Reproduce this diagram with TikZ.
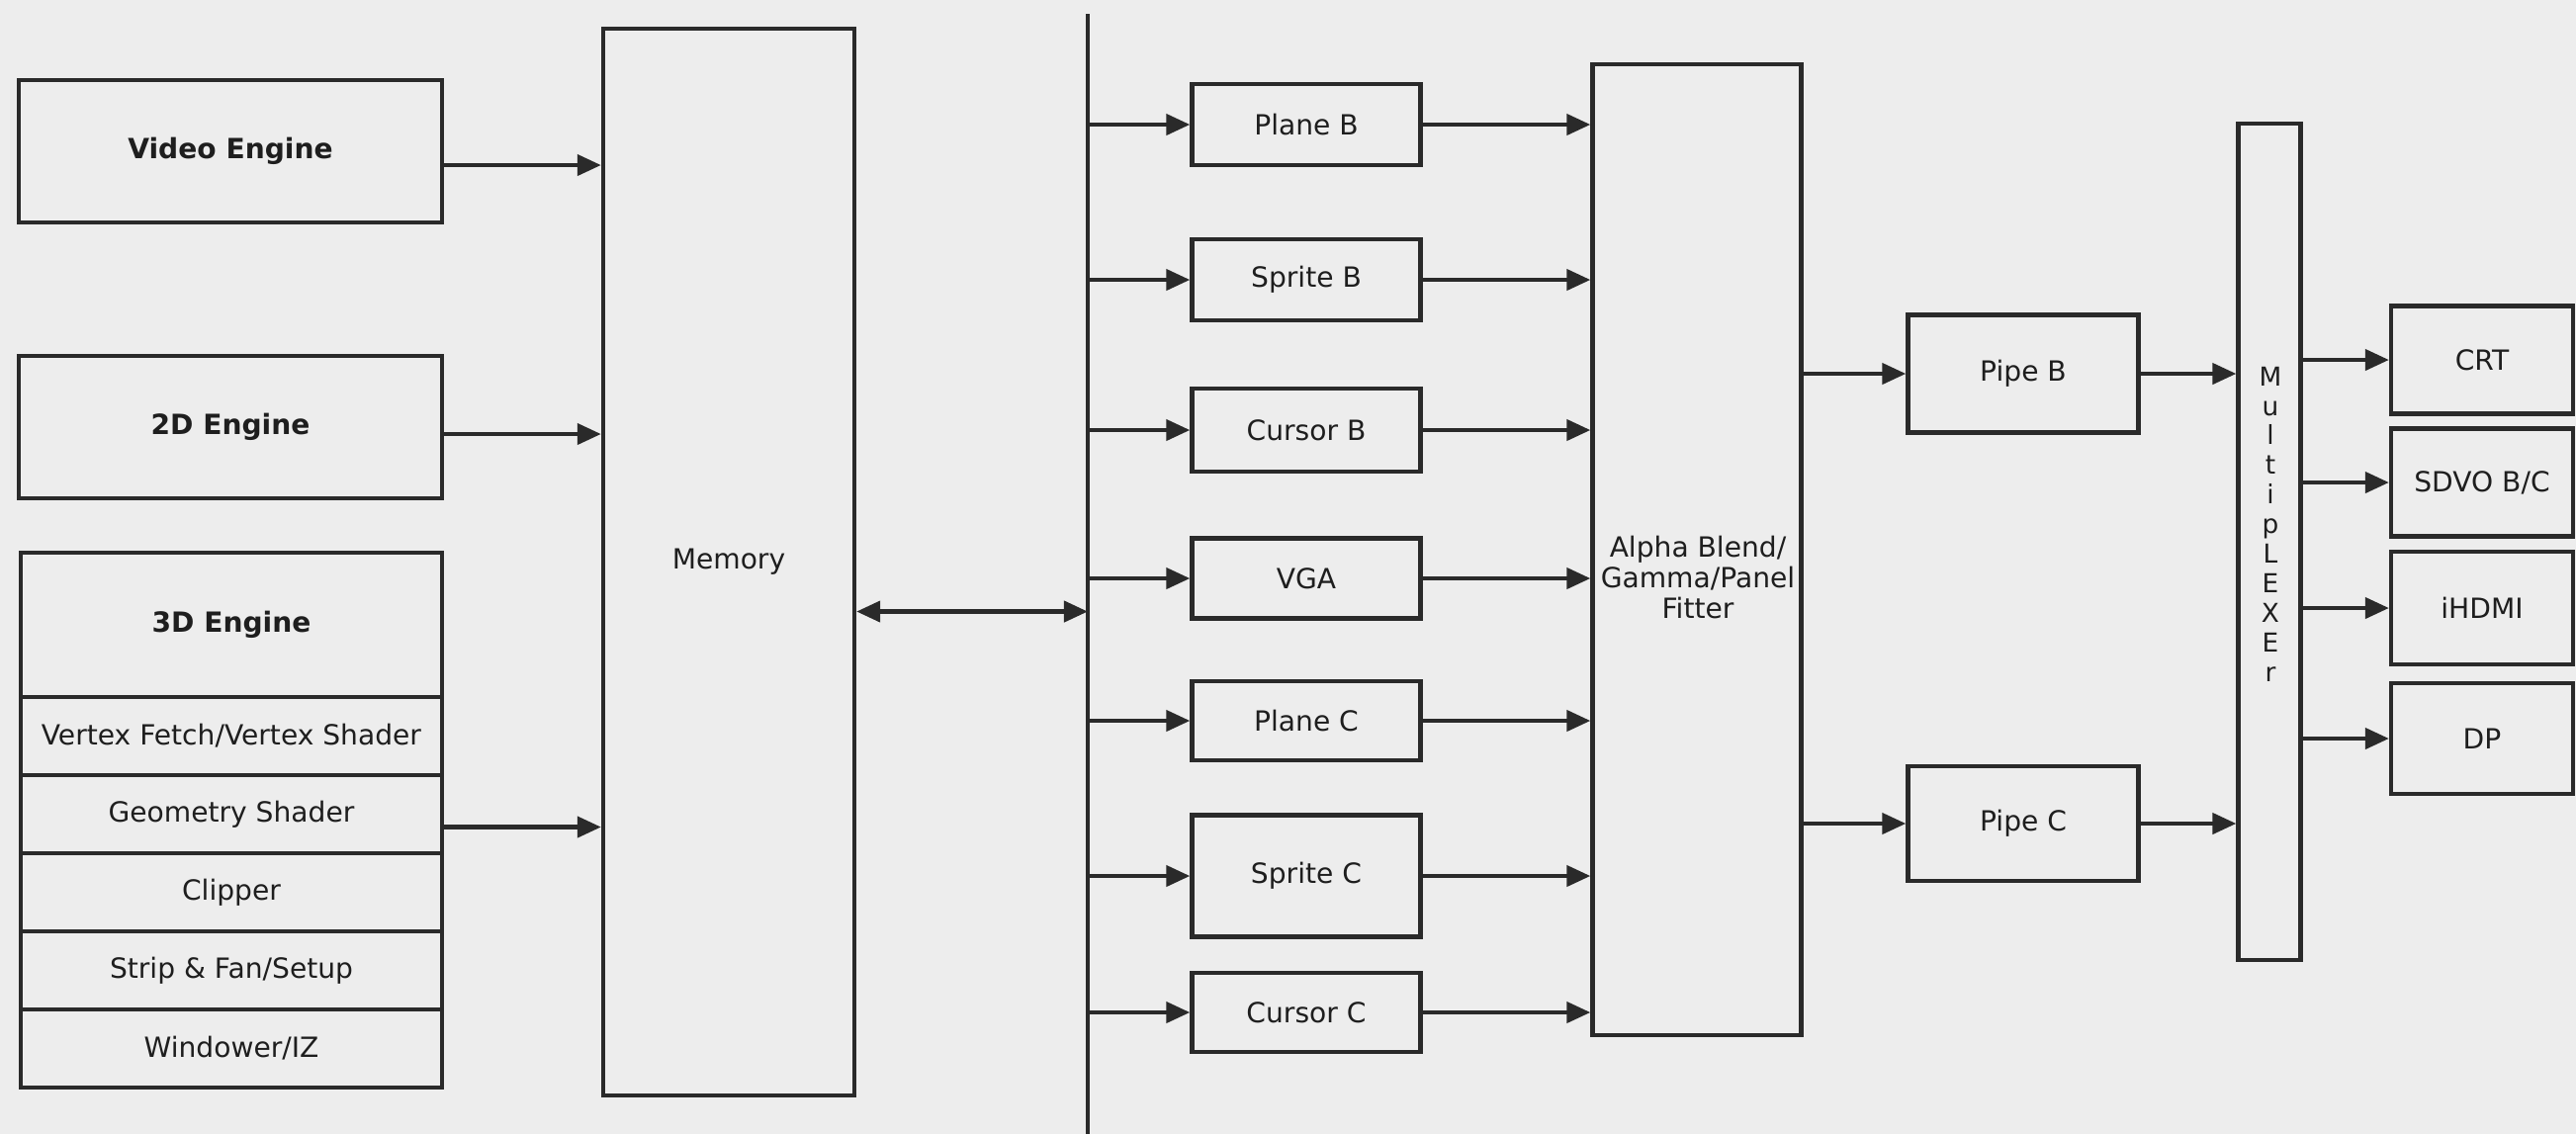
\documentclass[tikz,border=0pt]{standalone}
\usepackage{fontspec}
\setmainfont{DejaVu Sans}
\usetikzlibrary{arrows.meta,positioning}
\definecolor{dgBack}{HTML}{EDEDED}
\definecolor{dgLine}{HTML}{2A2A2A}
\definecolor{dgText}{HTML}{1E1E1E}

\begin{document}
\begin{tikzpicture}[x=0.01cm,y=-0.01cm,font=\fontsize{8}{9.6}\selectfont,
  s/.style={draw=dgLine,line width=1.2pt,text=dgText,align=center,inner sep=1pt},
  sb/.style={s,font=\fontsize{8}{9.6}\selectfont\bfseries},
  a/.style={-{Triangle[length=0.24cm,width=0.21cm]},dgLine,line width=1.2pt}]
\fill[dgBack] (0,0) rectangle (2605,1147);
\useasboundingbox (0,0) rectangle (2605,1147);
% engines
\node[sb,minimum width=4.27cm,minimum height=1.44cm] (ve) at (233,153) {Video Engine};
\node[sb,minimum width=4.27cm,minimum height=1.44cm] (e2) at (233,432) {2D Engine};
\node[sb,minimum width=4.25cm,minimum height=1.46cm] (e3) at (234,632) {3D Engine};
\node[s,minimum width=4.25cm,minimum height=0.79cm] (vf) at (234,744.5) {Vertex Fetch/Vertex Shader};
\node[s,minimum width=4.25cm,minimum height=0.79cm] (gs) at (234,823.5) {Geometry Shader};
\node[s,minimum width=4.25cm,minimum height=0.79cm] (cl) at (234,902.5) {Clipper};
\node[s,minimum width=4.25cm,minimum height=0.79cm] (sf) at (234,981.5) {Strip \& Fan/Setup};
\node[s,minimum width=4.25cm,minimum height=0.79cm] (wi) at (234,1060.5) {Windower/IZ};
\node[s,minimum width=2.54cm,minimum height=10.79cm] (mem) at (737,568.5) {Memory};
\coordinate (bt) at (1100,14);
\coordinate (bb) at (1100,1147);
% planes, sprites, cursors
\node[s,minimum width=2.31cm,minimum height=0.82cm] (plb) at (1321,126) {Plane B};
\node[s,minimum width=2.31cm,minimum height=0.82cm] (spb) at (1321,283) {Sprite B};
\node[s,minimum width=2.31cm,minimum height=0.84cm] (cub) at (1321,435) {Cursor B};
\node[s,minimum width=2.31cm,minimum height=0.81cm] (vga) at (1321,585) {VGA};
\node[s,minimum width=2.31cm,minimum height=0.80cm] (plc) at (1321,729) {Plane C};
\node[s,minimum width=2.31cm,minimum height=1.23cm] (spc) at (1321,886) {Sprite C};
\node[s,minimum width=2.31cm,minimum height=0.80cm] (cuc) at (1321,1024) {Cursor C};
\node[s,minimum width=2.11cm,minimum height=9.82cm] (ab) at (1716,556) {};
\node[text=dgText,align=center,font=\fontsize{8}{8.8}\selectfont] (abt) at (1717,584) {Alpha Blend/\\Gamma/Panel\\Fitter};
% pipes and outputs
\node[s,minimum width=2.33cm,minimum height=1.19cm] (pib) at (2046,378) {Pipe B};
\node[s,minimum width=2.33cm,minimum height=1.16cm] (pic) at (2046,833) {Pipe C};
\node[s,minimum width=0.63cm,minimum height=8.46cm] (mux) at (2295,548) {};
\node[text=dgText,align=center,font=\fontsize{7.5}{8.5}\selectfont] (muxt) at (2296,530) {M\\u\\l\\t\\i\\p\\L\\E\\X\\E\\r};
\node[s,minimum width=1.84cm,minimum height=1.09cm] (crt) at (2510,364) {CRT};
\node[s,minimum width=1.84cm,minimum height=1.09cm] (sdvo) at (2510,488) {SDVO B/C};
\node[s,minimum width=1.84cm,minimum height=1.14cm] (hdmi) at (2510,615) {iHDMI};
\node[s,minimum width=1.84cm,minimum height=1.12cm] (dp) at (2510,747) {DP};
% connectors
\draw[dgLine,line width=1.2pt] (bt) -- (bb);
\draw[a] ([yshift=-0.14cm]ve.east) -- ([yshift=-0.14cm]ve.east -| mem.west);
\draw[a] ([yshift=-0.07cm]e2.east) -- ([yshift=-0.07cm]e2.east -| mem.west);
\draw[a] ([yshift=-0.13cm]gs.east) -- ([yshift=-0.13cm]gs.east -| mem.west);
\draw[a,{Triangle[length=0.24cm,width=0.21cm]}-{Triangle[length=0.24cm,width=0.21cm]}] ([yshift=-0.5cm]mem.east) -- ([yshift=-0.5cm]mem.east -| bt);
\draw[a] (bt |- plb) -- (plb);
\draw[a] (bt |- spb) -- (spb);
\draw[a] (bt |- cub) -- (cub);
\draw[a] (bt |- vga) -- (vga);
\draw[a] (bt |- plc) -- (plc);
\draw[a] (bt |- spc) -- (spc);
\draw[a] (bt |- cuc) -- (cuc);
\draw[a] (plb) -- (plb -| ab.west);
\draw[a] (spb) -- (spb -| ab.west);
\draw[a] (cub) -- (cub -| ab.west);
\draw[a] (vga) -- (vga -| ab.west);
\draw[a] (plc) -- (plc -| ab.west);
\draw[a] (spc) -- (spc -| ab.west);
\draw[a] (cuc) -- (cuc -| ab.west);
\draw[a] (ab.east |- pib) -- (pib);
\draw[a] (ab.east |- pic) -- (pic);
\draw[a] (pib) -- (pib -| mux.west);
\draw[a] (pic) -- (pic -| mux.west);
\draw[a] (mux.east |- crt) -- (crt);
\draw[a] (mux.east |- sdvo) -- (sdvo);
\draw[a] (mux.east |- hdmi) -- (hdmi);
\draw[a] (mux.east |- dp) -- (dp);
\end{tikzpicture}
\end{document}
